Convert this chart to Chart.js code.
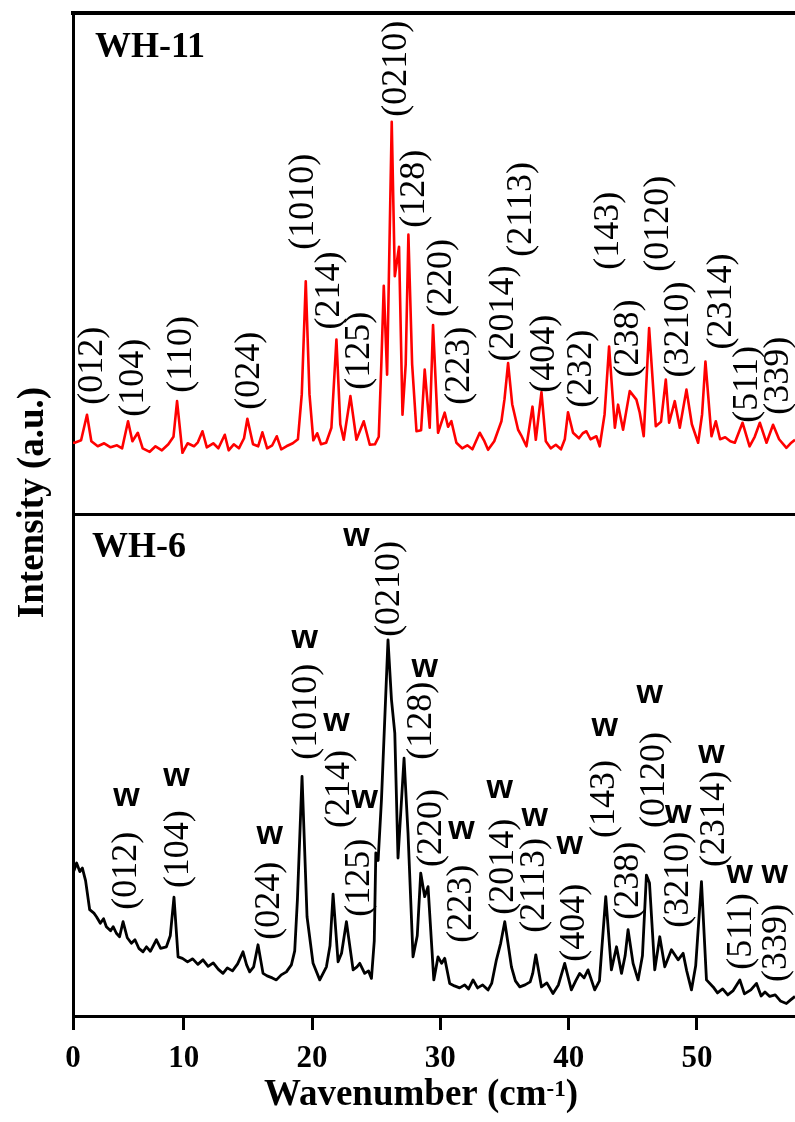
<!DOCTYPE html>
<html>
<head>
<meta charset="utf-8">
<title>WH-11 / WH-6 spectra</title>
<script src="https://cdn.jsdelivr.net/npm/chart.js@4.4.1/dist/chart.umd.min.js"></script>
<style>
  html, body { margin: 0; padding: 0; background: #fff; overflow: hidden; }
</style>
</head>
<body>
<canvas id="spectra" width="795" height="1122"></canvas>
<script>
// Axis range and tick labels (the first tick sits at the left edge of the frame)
const xStart = 1.37;
const xEnd = 57.64;
const xTickValues = [xStart, 10, 20, 30, 40, 50];
const xTickLabels = ['0', '10', '20', '30', '40', '50'];

// WH-11 spectrum (upper panel, intensity in panel units 0-100)
const wh11Wavenumber = [
  1.37, 1.5, 2.0, 2.46, 2.8, 3.3, 3.8, 4.3, 4.8, 5.2, 5.66, 6.0, 6.42, 6.8, 7.35, 7.8, 8.3, 8.8, 9.2, 9.48,
  9.9, 10.3, 10.8, 11.1, 11.46, 11.8, 12.3, 12.7, 13.2, 13.5, 13.9, 14.3, 14.7, 14.96, 15.4, 15.8, 16.13, 16.5, 16.9, 17.25,
  17.6, 18.0, 18.5, 18.9, 19.2, 19.51, 19.8, 20.1, 20.4, 20.7, 21.1, 21.51, 21.9, 22.2, 22.47, 22.99, 23.46, 24.03, 24.5, 24.9,
  25.2, 25.4, 25.59, 25.85, 26.21, 26.45, 26.78, 27.05, 27.3, 27.51, 27.8, 28.14, 28.5, 28.78, 29.17, 29.43, 29.82, 30.34, 30.6, 30.86,
  31.25, 31.7, 32.1, 32.5, 33.07, 33.4, 33.72, 34.2, 34.76, 35.0, 35.28, 35.6, 36.06, 36.3, 36.71, 37.18, 37.44, 37.88, 38.22, 38.6,
  39.0, 39.4, 39.7, 39.95, 40.34, 40.8, 41.1, 41.38, 41.7, 42.16, 42.42, 42.8, 43.15, 43.6, 43.85, 44.24, 44.76, 45.28, 45.54, 45.85,
  46.27, 46.79, 47.2, 47.57, 47.83, 48.27, 48.66, 49.18, 49.6, 50.09, 50.4, 50.66, 51.13, 51.47, 51.8, 52.2, 52.6, 52.95, 53.55, 54.1,
  54.5, 54.9, 55.42, 55.93, 56.4, 56.97, 57.3, 57.64
];
const wh11Intensity = [
  14.3, 14.3, 14.8, 19.9, 14.6, 13.6, 14.2, 13.4, 13.8, 13.2, 18.6, 14.6, 16.3, 13.2, 12.5, 13.6, 12.8, 14.0, 15.5, 22.6,
  12.3, 14.2, 13.6, 14.4, 16.6, 13.4, 14.2, 13.2, 15.9, 12.8, 14.0, 13.2, 15.2, 19.1, 14.0, 13.6, 16.4, 13.2, 13.8, 15.6,
  13.0, 13.6, 14.2, 15.0, 24.0, 46.5, 24.0, 14.8, 16.2, 14.0, 14.3, 17.3, 34.9, 18.0, 14.9, 23.6, 14.9, 18.6, 13.9, 14.0,
  15.5, 30.0, 45.6, 27.9, 78.3, 47.5, 53.4, 19.9, 30.0, 55.8, 30.0, 16.6, 16.8, 28.9, 17.3, 37.8, 16.3, 20.3, 17.5, 18.6,
  14.3, 13.2, 13.8, 13.0, 16.3, 14.8, 12.9, 14.6, 18.6, 23.0, 30.2, 22.0, 16.9, 15.8, 13.6, 21.5, 14.9, 24.4, 14.6, 13.2,
  13.9, 13.0, 15.0, 20.4, 16.3, 15.2, 16.2, 16.6, 15.0, 15.6, 13.6, 20.0, 33.5, 17.3, 21.9, 16.9, 24.6, 22.9, 20.3, 15.6,
  37.2, 17.6, 18.5, 26.9, 18.3, 22.6, 17.3, 24.9, 18.0, 14.3, 20.0, 30.5, 15.6, 18.6, 15.0, 15.4, 14.6, 14.3, 18.3, 13.6,
  15.5, 18.3, 14.3, 17.9, 15.0, 13.3, 14.2, 14.9
];

// WH-6 spectrum (lower panel, intensity in panel units 0-100)
const wh6Wavenumber = [
  1.37, 1.45, 1.65, 1.9, 2.1, 2.35, 2.67, 3.0, 3.2, 3.5, 3.75, 3.97, 4.3, 4.5, 4.75, 5.0, 5.27, 5.6, 5.92, 6.2,
  6.5, 6.83, 7.1, 7.4, 7.87, 8.2, 8.65, 8.95, 9.24, 9.56, 9.9, 10.3, 10.7, 11.1, 11.5, 11.9, 12.3, 12.7, 13.06, 13.4,
  13.8, 14.2, 14.62, 14.9, 15.14, 15.45, 15.79, 16.18, 16.5, 16.9, 17.22, 17.6, 18.0, 18.39, 18.65, 18.86, 19.22, 19.61, 20.08, 20.6,
  21.12, 21.4, 21.64, 22.03, 22.3, 22.68, 23.2, 23.5, 23.72, 24.1, 24.4, 24.63, 24.85, 24.97, 25.15, 25.41, 25.92, 26.19, 26.45, 26.7,
  27.17, 27.48, 27.87, 28.2, 28.47, 28.78, 29.04, 29.49, 29.82, 30.1, 30.34, 30.73, 31.1, 31.5, 31.9, 32.2, 32.55, 32.9, 33.3, 33.72,
  34.0, 34.37, 34.7, 35.02, 35.3, 35.54, 35.85, 36.19, 36.6, 37.0, 37.2, 37.44, 37.88, 38.3, 38.78, 39.2, 39.69, 40.21, 40.55, 40.86,
  41.2, 41.51, 42.03, 42.4, 42.6, 42.89, 43.33, 43.73, 44.12, 44.4, 44.63, 45.02, 45.41, 45.75, 46.06, 46.3, 46.71, 47.1, 47.49, 48.01,
  48.53, 48.92, 49.2, 49.57, 49.9, 50.35, 50.74, 51.26, 51.6, 52.0, 52.4, 52.8, 53.34, 53.7, 54.2, 54.64, 55.0, 55.3, 55.67, 56.1,
  56.5, 56.97, 57.3, 57.64
];
const wh6Intensity = [
  29.0, 29.0, 30.5, 28.8, 29.5, 27.0, 21.2, 20.5, 19.8, 18.5, 19.4, 17.8, 17.0, 17.8, 16.5, 15.8, 18.8, 15.6, 14.5, 15.2,
  13.5, 12.8, 13.8, 12.9, 15.2, 13.5, 13.8, 16.0, 23.7, 11.8, 11.5, 10.8, 11.4, 10.3, 11.2, 9.9, 10.6, 9.3, 8.5, 9.6,
  9.0, 10.4, 12.8, 10.2, 8.8, 9.8, 14.2, 8.5, 8.0, 7.6, 7.2, 8.2, 8.8, 10.2, 13.0, 23.2, 47.8, 19.8, 10.5, 7.2,
  9.8, 14.0, 24.3, 10.8, 12.5, 18.8, 9.2, 9.8, 10.5, 8.5, 9.0, 7.5, 15.0, 32.5, 31.0, 43.1, 75.0, 63.1, 56.4, 31.5,
  51.4, 36.5, 11.8, 16.0, 28.5, 23.8, 25.8, 7.2, 11.8, 10.5, 11.5, 6.5, 6.0, 5.6, 6.2, 5.4, 7.2, 5.6, 6.2, 5.2,
  6.5, 11.2, 14.5, 18.8, 14.0, 9.8, 7.0, 5.8, 6.2, 6.8, 8.5, 12.2, 5.8, 6.6, 4.5, 6.2, 10.5, 5.2, 7.0, 8.5,
  7.6, 9.2, 5.2, 7.0, 14.0, 23.8, 9.2, 13.8, 8.5, 12.0, 17.2, 10.5, 7.2, 12.0, 28.1, 26.5, 9.2, 15.8, 9.8, 13.2,
  11.2, 12.5, 9.0, 5.2, 10.0, 26.8, 7.2, 5.8, 4.6, 5.4, 4.2, 5.0, 7.2, 4.4, 5.2, 6.5, 4.0, 4.8, 3.9, 4.2,
  3.0, 2.5, 3.2, 3.9
];

// Plane indices: text, wavenumber, and intensity where the rotated text starts
const wh11Planes = ['(012)', '(104)', '(110)', '(024)', '(1010)', '(214)', '(125)', '(0210)', '(128)', '(220)', '(223)',
  '(2014)', '(2113)', '(404)', '(232)', '(143)', '(238)', '(0120)', '(3210)', '(2314)', '(511)', '(339)'];
const wh11PlaneX = [2.93, 6.05, 9.82, 15.14, 19.3, 21.38, 23.72, 26.58, 28.0, 30.09, 31.51,
  34.89, 36.32, 38.14, 41.0, 43.07, 44.63, 46.97, 48.53, 51.91, 53.98, 56.32];
const wh11PlaneY = [21.9, 19.5, 24.3, 20.9, 52.8, 36.9, 24.9, 79.3, 57.2, 39.4, 21.9,
  30.5, 51.4, 24.3, 21.3, 48.8, 27.3, 48.4, 27.3, 32.9, 18.3, 19.9];

const wh6Planes = ['(012)', '(104)', '(024)', '(1010)', '(214)', '(125)', '(0210)', '(128)', '(220)', '(223)',
  '(2014)', '(2113)', '(404)', '(143)', '(238)', '(0120)', '(3210)', '(2314)', '(511)', '(339)'];
const wh6PlaneX = [5.53, 9.56, 16.7, 19.56, 22.16, 23.72, 26.06, 28.53, 29.33, 31.64,
  34.89, 37.36, 40.48, 42.81, 44.63, 46.71, 48.53, 51.39, 53.47, 56.2];
const wh6PlaneY = [21.2, 25.5, 15.2, 51.1, 37.5, 19.8, 75.6, 51.1, 29.7, 14.6,
  20.2, 16.6, 10.8, 35.5, 19.2, 37.5, 17.6, 29.7, 9.2, 6.8];

// "w" marks over the WH-6 reflections (centre of each mark)
const wMarkX = [5.53, 9.43, 16.7, 19.43, 21.9, 24.11, 23.46, 28.79, 31.64, 34.63, 37.36, 40.09,
  42.81, 46.32, 48.53, 51.13, 53.34, 56.06];
const wMarkY = [43.7, 47.7, 36.1, 75.2, 58.7, 43.3, 95.6, 69.3, 37.1, 45.3, 39.7, 34.1,
  57.7, 64.3, 40.3, 52.3, 28.3, 28.3];

const SERIF = '"Liberation Serif", "Times New Roman", serif';
const SANS = '"Liberation Sans", Arial, sans-serif';

function toPoints(xs, ys) {
  return xs.map((x, i) => ({ x: x, y: ys[i] }));
}

// Draw rotated labels reading bottom to top, starting at (x, y)
function drawVertical(ctx, texts, xs, ys, xScale, yScale) {
  texts.forEach((t, i) => {
    ctx.save();
    ctx.translate(xScale.getPixelForValue(xs[i]), yScale.getPixelForValue(ys[i]));
    ctx.rotate(-Math.PI / 2);
    ctx.fillText(t, 0, 0);
    ctx.restore();
  });
}

const annotate = {
  id: 'annotate',
  afterDatasetsDraw(chart) {
    const { ctx, chartArea, scales } = chart;
    const x = scales.x, yTop = scales.yTop, yBottom = scales.yBottom;
    const mid = yTop.getPixelForValue(0);
    ctx.save();
    ctx.fillStyle = '#000';

    // panel names
    ctx.font = 'bold 36px ' + SERIF;
    ctx.textAlign = 'left';
    ctx.textBaseline = 'alphabetic';
    ctx.fillText('WH-11', chartArea.left + 22, chartArea.top + 44);
    ctx.fillText('WH-6', chartArea.left + 19, mid + 42);

    // plane indices
    ctx.font = 'normal 400 36px ' + SERIF;
    ctx.textBaseline = 'middle';
    drawVertical(ctx, wh11Planes, wh11PlaneX, wh11PlaneY, x, yTop);
    drawVertical(ctx, wh6Planes, wh6PlaneX, wh6PlaneY, x, yBottom);

    // w marks
    ctx.font = 'bold 34px ' + SANS;
    ctx.textAlign = 'center';
    ctx.textBaseline = 'alphabetic';
    wMarkX.forEach((v, i) => {
      ctx.fillText('w', x.getPixelForValue(v), yBottom.getPixelForValue(wMarkY[i]) + 9);
    });

    // y axis title
    ctx.save();
    ctx.translate(chartArea.left - 40, (chartArea.top + chartArea.bottom) / 2 - 12);
    ctx.rotate(-Math.PI / 2);
    ctx.font = 'bold 37px ' + SERIF;
    ctx.textAlign = 'center';
    ctx.textBaseline = 'middle';
    ctx.fillText('Intensity (a.u.)', 0, 0);
    ctx.restore();

    // x axis title with superscript
    const main = 'Wavenumber (cm', sup = '-1', tail = ')';
    const mainFont = 'bold 37px ' + SERIF, supFont = 'bold 23px ' + SERIF;
    ctx.font = mainFont;
    const wMain = ctx.measureText(main).width, wTail = ctx.measureText(tail).width;
    ctx.font = supFont;
    const wSup = ctx.measureText(sup).width;
    let tx = chartArea.left + 348 - (wMain + wSup + wTail) / 2;
    const base = chartArea.bottom + 89;
    ctx.textAlign = 'left';
    ctx.font = mainFont;
    ctx.fillText(main, tx, base);
    tx += wMain;
    ctx.font = supFont;
    ctx.fillText(sup, tx, base - 9);
    tx += wSup;
    ctx.font = mainFont;
    ctx.fillText(tail, tx, base);

    ctx.restore();
  }
};

new Chart(document.getElementById('spectra'), {
  type: 'line',
  data: {
    datasets: [
      { label: 'WH-11', data: toPoints(wh11Wavenumber, wh11Intensity), yAxisID: 'yTop',
        borderColor: '#ff0000', borderWidth: 2.6 },
      { label: 'WH-6', data: toPoints(wh6Wavenumber, wh6Intensity), yAxisID: 'yBottom',
        borderColor: '#000000', borderWidth: 2.8 }
    ]
  },
  options: {
    responsive: false,
    animation: false,
    devicePixelRatio: 1,
    layout: { padding: 0 },
    elements: {
      point: { radius: 0 },
      line: { tension: 0, borderJoinStyle: 'round', fill: false }
    },
    plugins: { legend: { display: false }, tooltip: { enabled: false } },
    scales: {
      x: {
        type: 'linear',
        position: 'bottom',
        min: xStart,
        max: xEnd,
        afterBuildTicks: s => { s.ticks = xTickValues.map(v => ({ value: v })); },
        afterFit: s => { s.height = 106; },
        ticks: {
          autoSkip: false,
          maxRotation: 0,
          padding: 10,
          color: '#000',
          font: { family: SERIF, size: 31, weight: 'bold' },
          callback: (v, i) => xTickLabels[i]
        },
        grid: { drawOnChartArea: false, drawTicks: true, tickLength: 14, lineWidth: 3, color: '#000' },
        border: { display: true, width: 3, color: '#000' }
      },
      xTop: {
        type: 'linear',
        position: 'top',
        min: xStart,
        max: xEnd,
        afterFit: s => { s.height = 13; },
        ticks: { display: false },
        grid: { display: false },
        border: { display: true, width: 4, color: '#000' }
      },
      yTop: {
        type: 'linear',
        position: 'left',
        min: -100,
        max: 100,
        afterBuildTicks: s => { s.ticks = [{ value: 0 }]; },
        afterFit: s => { s.width = 73; },
        ticks: { display: false },
        grid: { drawTicks: false, lineWidth: 3, color: '#000' },
        border: { display: true, width: 3, color: '#000' }
      },
      yBottom: {
        type: 'linear',
        display: false,
        min: 0,
        max: 200
      }
    }
  },
  plugins: [annotate]
});
</script>
</body>
</html>
